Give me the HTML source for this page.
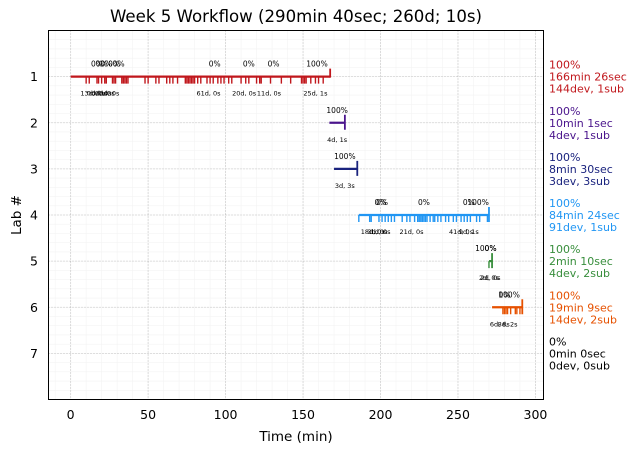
<!DOCTYPE html>
<html><head><meta charset="utf-8"><style>
html,body{margin:0;padding:0;background:#fff}
svg{display:block;font-family:"DejaVu Sans","Liberation Sans",sans-serif}
</style></head><body>
<svg id="chart" width="637" height="453" viewBox="0 0 637 453" xmlns="http://www.w3.org/2000/svg">
<text x="296" y="22" font-size="16.6" text-anchor="middle" fill="#000">Week 5 Workflow (290min 40sec; 260d; 10s)</text>
<g id="grid"></g>
<g id="marks"></g>
<rect x="48.5" y="30.5" width="495" height="369" fill="none" stroke="#000" stroke-width="1"/>
<g id="axes"></g>
<text x="296" y="441" font-size="13.5" text-anchor="middle">Time (min)</text>
<text transform="translate(21,215) rotate(-90)" font-size="13.5" text-anchor="middle">Lab #</text>
<g id="legend"></g>
</svg>
<script>
const xTicks = [0,50,100,150,200,250,300];
const yTicks = [1,2,3,4,5,6,7];
const labs = [1,2,3,4,5,6];
const colors = ["#c0171c","#4a148c","#1a237e","#2196f3","#388e3c","#e65100"];
const starts = [0,167,170,186,270,272];
const ends = [167.5,177,185,270,272,291.5];
const subTicks = [
 [10,12,17,18,20,22,23,27,28,29,33,34,35,36,37,48,50,55,57,62,64,66,69,74,75,76,77,78,79,80,82,84,88,90,92,95,97,99,102,104,110,113,115,120,122,123,129,136,142,149,150,151,152,155,158,160,163],
 [],
 [],
 [186,193,194,199,201,203,205,207,209,214,217,219,222,224,225,226,227,228,229,230,232,234,235,237,239,242,244,247,249,252,254,256,258,262,264,269],
 [270],
 [279,280,281,282,284,287,288,290]
];
const topLabelTimes = [[17,20,23,28,31,93,115,131,159],[172],[177],[200,201,228,257,263],[268,271],[280,283]];
const topLabelTexts = [["0%","0%","0%","0%","0%","0%","0%","0%","100%"],["100%"],["100%"],["0%","0%","0%","0%","100%"],["100%","0%"],["0%","100%"]];
const botLabelTimes = [[14,17,20,22,25,89,112,128,158],[172],[177],[195,198,200,220,252,257],[270,271],[277,282]];
const botLabelTexts = [["13d, 0s","0d, 0s","0d, 0s","0d, 0s","0d, 0s","61d, 0s","20d, 0s","11d, 0s","25d, 1s"],["4d, 1s"],["3d, 3s"],["18d, 0s","3d, 0s","1d, 0s","21d, 0s","41d, 0s","9d, 1s"],["2d, 0s","2d, 0s"],["6d, 8s","8d, 2s"]];
const legendPct = ["100%","100%","100%","100%","100%","100%","0%"];
const legendTime = ["166min 26sec","10min 1sec","8min 30sec","84min 24sec","2min 10sec","19min 9sec","0min 0sec"];
const legendDev = ["144dev, 1sub","4dev, 1sub","3dev, 3sub","91dev, 1sub","4dev, 2sub","14dev, 2sub","0dev, 0sub"];
const legendColors = ["#c0171c","#4a148c","#1a237e","#2196f3","#388e3c","#e65100","#000"];

const NS="http://www.w3.org/2000/svg";
const X0=48.5,X1=543.5,Y0=30.5,Y1=399.5;
const xMin=-14.3,xMax=305.2,yMin=0,yMax=8;
function sx(v){return X0+(v-xMin)/(xMax-xMin)*(X1-X0);}
function sy(v){return Y0+(v-yMin)/(yMax-yMin)*(Y1-Y0);}
function mk(parent,tag,attrs){const e=document.createElementNS(NS,tag);for(const k in attrs)e.setAttribute(k,attrs[k]);parent.appendChild(e);return e;}
const grid=document.getElementById('grid'),axes=document.getElementById('axes'),marks=document.getElementById('marks'),legend=document.getElementById('legend');
for(let v=-10;v<=300;v+=10){const l=mk(grid,'line',{x1:sx(v),x2:sx(v),y1:Y0,y2:Y1,stroke:'#f3f3f3','stroke-width':0.6});

}
for(let v=0.2;v<8;v+=0.2){const l=mk(grid,'line',{x1:X0,x2:X1,y1:sy(v),y2:sy(v),stroke:'#f3f3f3','stroke-width':0.6});

}
xTicks.forEach(v=>{const l=mk(grid,'line',{x1:sx(v),x2:sx(v),y1:Y0,y2:Y1,stroke:'#b0b0b0','stroke-width':0.8,'stroke-dasharray':'1,2'});


const t=mk(axes,'text',{x:sx(v),y:419,'font-size':12.5,'text-anchor':'middle'});t.textContent=v;

});
yTicks.forEach(v=>{const l=mk(grid,'line',{x1:X0,x2:X1,y1:sy(v),y2:sy(v),stroke:'#b0b0b0','stroke-width':0.8,'stroke-dasharray':'1,2'});


const t=mk(axes,'text',{x:38,y:sy(v)+4.5,'font-size':12.5,'text-anchor':'end'});t.textContent=v;

});
labs.forEach((lab,i)=>{const y=sy(lab),c=colors[i];
 const g=mk(marks,'g',{});
 
 
 const b=mk(g,'line',{x1:sx(starts[i]),x2:sx(ends[i]),y1:y,y2:y,stroke:c,'stroke-width':2.2});
 
 
 const e=mk(g,'line',{x1:sx(ends[i]),x2:sx(ends[i]),y1:y-8,y2:y+(i===0?1:7),stroke:c,'stroke-width':1.8});
 
 
 subTicks[i].forEach(t=>{const s=mk(g,'line',{x1:sx(t),x2:sx(t),y1:y,y2:y+7,stroke:c,'stroke-width':1.4});
  
  });
 topLabelTimes[i].forEach((t,j)=>{const tx=mk(g,'text',{x:sx(t),y:y-10,'font-size':7.5,'text-anchor':'middle'});tx.textContent=topLabelTexts[i][j];
  
  });
 botLabelTimes[i].forEach((t,j)=>{const tx=mk(g,'text',{x:sx(t),y:y+19,'font-size':6.5,'text-anchor':'middle'});tx.textContent=botLabelTexts[i][j];
  
  });
});
legendPct.forEach((p,i)=>{const y=sy(i+1)-8;const lines=[p,legendTime[i],legendDev[i]];
 lines.forEach((s,k)=>{const t=mk(legend,'text',{x:549,y:y+k*12,'font-size':11,fill:legendColors[i]});t.textContent=s;
  
  });});
</script>
</body></html>
